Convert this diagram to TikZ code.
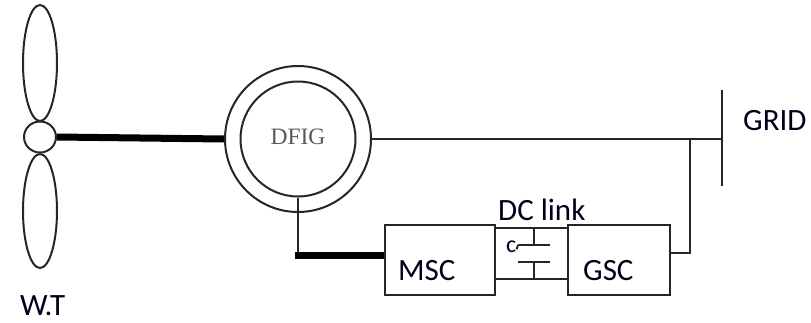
\documentclass[tikz,border=0pt]{standalone}
\usepackage{fontspec}
\setmainfont{Carlito}
\newfontfamily\serifdfig{Liberation Serif}
\usetikzlibrary{shapes.geometric,positioning}

\begin{document}
\begin{tikzpicture}[x=1pt,y=-1pt,
    wire/.style={line width=2pt,draw=black!85},
    shaft/.style={line width=7pt,draw=black},
    blade/.style={ellipse,draw=black!85,line width=2pt,inner sep=0pt,minimum width=34pt},
    ring/.style={circle,draw=black!85,line width=2pt,inner sep=0pt},
    conv/.style={rectangle,draw=black!85,line width=2pt,minimum width=#1,minimum height=70pt},
    lbl/.style={font=\fontsize{31}{32}\selectfont,text=black!90!blue,inner sep=0pt,anchor=base west}]
    \useasboundingbox (0,0) rectangle (811,322);

    % wind turbine
    \node (bup) [blade,minimum height=116pt] at (40,63) {};
    \node (bdn) [blade,minimum height=114pt] at (40,211) {};
    \node (hub) [blade,minimum width=32pt,minimum height=31pt] at (40,137) {};
    \node (wt) [lbl] at (20,315) {W.T};

    % generator
    \node (gout) [ring,minimum size=146pt] at (298,139) {};
    \node (gin) [ring,minimum size=115pt] at (298,139) {};
    \node (dfig) at (298,137) {\serifdfig\fontsize{23.5}{24}\selectfont\color{black!65}DFIG};

    % converters
    \node (msc) [conv=110pt] at (440,260) {};
    \node (gsc) [conv=102pt] at (619,260) {};
    \node [lbl] at (398,280) {MSC};
    \node [lbl] at (583,280) {GSC};
    \node (dcl) [lbl] at (498,220) {DC link};

    % grid bus
    \coordinate (bus) at (722,139);
    \coordinate (bustop) at (722,90);
    \coordinate (busbot) at (722,186);
    \coordinate (tap) at (690,139);
    \coordinate (rot) at (298,255);
    \node (grid) [lbl] at (743,130) {GRID};

    \draw[shaft] (hub.east) -- (gout.west);
    \draw[wire] (gout.east) -- (bus);
    \draw[wire,line width=2.5pt] (bustop) -- (busbot);
    \draw[wire] (gin.south) -- (rot);
    \draw[shaft] ([xshift=-3.5pt]rot) -- (rot -| msc.west);
    \draw[wire] ([yshift=7pt]gsc.east) -| (tap);

    % dc link with capacitor
    \coordinate (ct) at (534,229);
    \coordinate (cb) at (534,278);
    \coordinate (pt) at (534,245);
    \coordinate (pb) at (534,262);
    \draw[wire] ([yshift=-4pt]msc.north east) -- ([yshift=-4pt]gsc.north west);
    \draw[wire] ([yshift=17pt]msc.south east) -- ([yshift=17pt]gsc.south west);
    \draw[wire] (ct) -- (pt) (pb) -- (cb);
    \draw[wire] ([xshift=-16pt]pt) -- ([xshift=16pt]pt);
    \draw[wire] ([xshift=-16pt]pb) -- ([xshift=16pt]pb);
    \node (cap) [lbl,font=\fontsize{24}{25}\selectfont] at (506,252) {c};
    \draw[wire] ([yshift=-3pt]cap.east) -- ([xshift=-16pt]pt);
\end{tikzpicture}
\end{document}
